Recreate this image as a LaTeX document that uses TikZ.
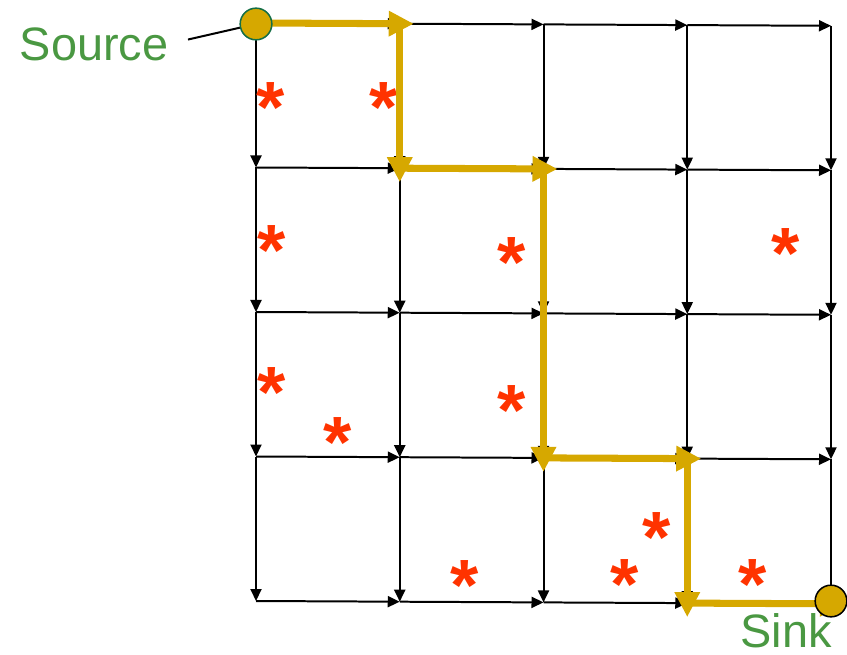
\documentclass[tikz,border=0pt]{standalone}
\usepackage{fontspec}
\setmainfont{Liberation Sans}
\usepackage{xcolor}
\usetikzlibrary{arrows.meta,calc,positioning}

\definecolor{pathgold}{RGB}{214,168,0}
\definecolor{hitred}{RGB}{255,51,0}
\definecolor{labelgreen}{RGB}{74,152,66}
\definecolor{rimgreen}{RGB}{20,110,70}

\begin{document}
\begin{tikzpicture}[
  x=0.03cm,
  y=-0.03cm,
  gridarrow/.style={
    -{Triangle[length=3.6mm,width=3.3mm]},
    line width=1.7pt
  },
  route/.style={
    -{Triangle[length=7.5mm,width=7.2mm]},
    line width=6pt,
    draw=pathgold,
    shorten >=-0.42cm
  },
  endpoint/.style={
    circle,
    fill=pathgold,
    line width=1.3pt,
    inner sep=0pt,
    minimum size=0.95cm
  },
  tag/.style={
    text=labelgreen,
    font=\fontsize{40}{40}\selectfont,
    inner sep=0pt
  },
  hit/.style={
    text=hitred,
    font=\fontsize{62}{62}\selectfont\bfseries,
    inner sep=0pt,
    anchor=base,
    yshift=-30pt
  }
]
\useasboundingbox (0,0) rectangle (847,655);

% grid points
\foreach \i in {0,...,4}
  \foreach \j in {0,...,4}
    \coordinate (g-\i-\j) at ({256+143.75*\i},{23+144.5*\j+0.7*\i});

% horizontal edges
\foreach \i/\k in {0/1,1/2,2/3,3/4}
  \foreach \j in {0,...,4}
    \draw[gridarrow] (g-\i-\j) -- (g-\k-\j);
% vertical edges
\foreach \i in {0,...,4}
  \foreach \j/\k in {0/1,1/2,2/3,3/4}
    \draw[gridarrow] (g-\i-\j) -- (g-\i-\k);

% marked cells
\foreach \p in {(271,97),(384,97),(272,240),(512,252),(786,243),(272,382),
                (338,432),(512,400),(657,527),(465,575),(625,574),(753,574)}
  \node[hit] at \p {*};

% path from source to sink
\draw[route] (g-0-0) -- (g-1-0);
\draw[route] (g-1-0) -- (g-1-1);
\draw[route] (g-1-1) -- (g-2-1);
\draw[route] (g-2-1) -- (g-2-3);
\draw[route] (g-2-3) -- (g-3-3);
\draw[route] (g-3-3) -- (g-3-4);
\draw[route] (g-3-4) -- (g-4-4);

\node[endpoint,draw=rimgreen] (src) at (256,24) {};
\node[endpoint,draw=black] (snk) at (831,601) {};

\node[tag] (srclabel) at (94,44) {Source};
\node[tag] (snklabel) at (786,631) {Sink};
\draw[line width=1.7pt,shorten <=0.6cm] (srclabel.east) -- (src);
\end{tikzpicture}
\end{document}
